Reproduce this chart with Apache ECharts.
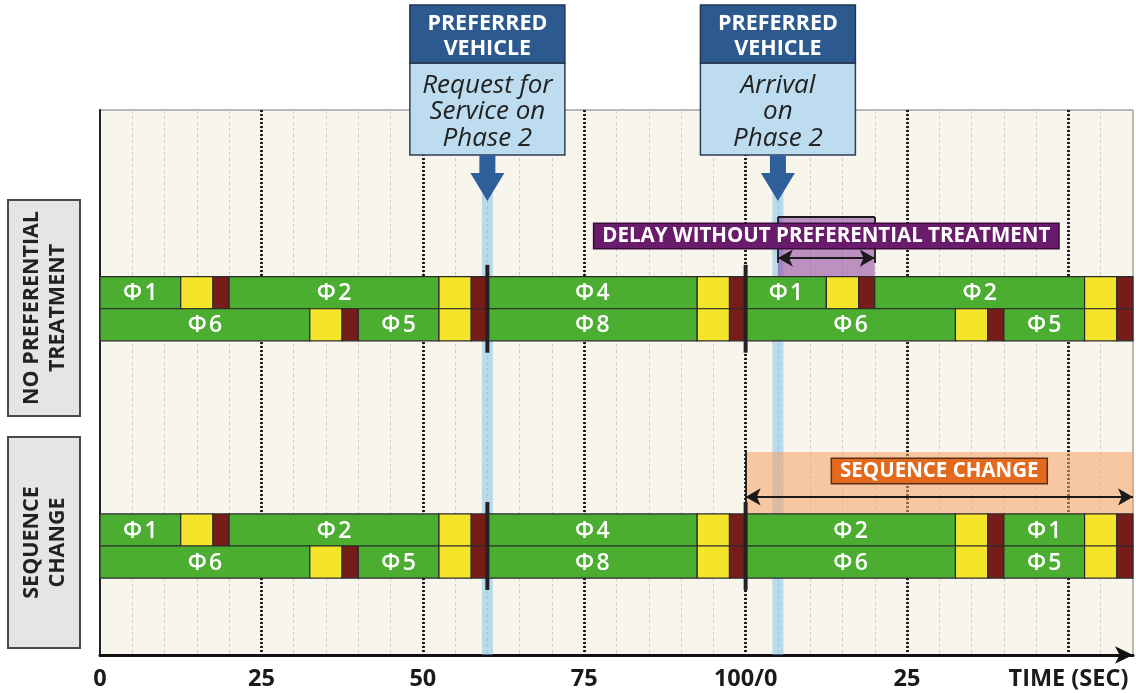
<!DOCTYPE html>
<html>
<head>
<meta charset="utf-8">
<script src="https://cdn.jsdelivr.net/npm/echarts@6.0.0/dist/echarts.min.js"></script>
<style>
html,body{margin:0;padding:0;background:#ffffff;}
#c{width:1136px;height:693px;}
</style>
</head>
<body>
<div id="c"></div>
<script>
// ---------------- DATA ----------------
const xTickValues = [0, 25, 50, 75, 100, 125, 150];
const xTickLabels = ['0', '25', '50', '75', '100/0', '25', 'TIME (SEC)'];
const groupNames = ['NO PREFERENTIAL\nTREATMENT', 'SEQUENCE\nCHANGE'];

// [start s, end s, state (G/Y/R), phase label]
const noPrefRing1 = [
  [0, 12.5, 'G', 'Φ1'], [12.5, 17.5, 'Y'], [17.5, 20, 'R'],
  [20, 52.5, 'G', 'Φ2'], [52.5, 57.5, 'Y'], [57.5, 60, 'R'],
  [60, 92.5, 'G', 'Φ4'], [92.5, 97.5, 'Y'], [97.5, 100, 'R'],
  [100, 112.5, 'G', 'Φ1'], [112.5, 117.5, 'Y'], [117.5, 120, 'R'],
  [120, 152.5, 'G', 'Φ2'], [152.5, 157.5, 'Y'], [157.5, 160, 'R']
];
const noPrefRing2 = [
  [0, 32.5, 'G', 'Φ6'], [32.5, 37.5, 'Y'], [37.5, 40, 'R'],
  [40, 52.5, 'G', 'Φ5'], [52.5, 57.5, 'Y'], [57.5, 60, 'R'],
  [60, 92.5, 'G', 'Φ8'], [92.5, 97.5, 'Y'], [97.5, 100, 'R'],
  [100, 132.5, 'G', 'Φ6'], [132.5, 137.5, 'Y'], [137.5, 140, 'R'],
  [140, 152.5, 'G', 'Φ5'], [152.5, 157.5, 'Y'], [157.5, 160, 'R']
];
const seqRing1 = [
  [0, 12.5, 'G', 'Φ1'], [12.5, 17.5, 'Y'], [17.5, 20, 'R'],
  [20, 52.5, 'G', 'Φ2'], [52.5, 57.5, 'Y'], [57.5, 60, 'R'],
  [60, 92.5, 'G', 'Φ4'], [92.5, 97.5, 'Y'], [97.5, 100, 'R'],
  [100, 132.5, 'G', 'Φ2'], [132.5, 137.5, 'Y'], [137.5, 140, 'R'],
  [140, 152.5, 'G', 'Φ1'], [152.5, 157.5, 'Y'], [157.5, 160, 'R']
];
const seqRing2 = [
  [0, 32.5, 'G', 'Φ6'], [32.5, 37.5, 'Y'], [37.5, 40, 'R'],
  [40, 52.5, 'G', 'Φ5'], [52.5, 57.5, 'Y'], [57.5, 60, 'R'],
  [60, 92.5, 'G', 'Φ8'], [92.5, 97.5, 'Y'], [97.5, 100, 'R'],
  [100, 132.5, 'G', 'Φ6'], [132.5, 137.5, 'Y'], [137.5, 140, 'R'],
  [140, 152.5, 'G', 'Φ5'], [152.5, 157.5, 'Y'], [157.5, 160, 'R']
];
const cycleBoundaries = [60, 100];
const requestTime = 60;
const arrivalTime = 105;
const delayRange = [105, 120];
const sequenceChangeRange = [100, 160];
const calloutTitles = ['PREFERRED\nVEHICLE', 'PREFERRED\nVEHICLE'];
const calloutTexts = ['Request for\nService on\nPhase 2', 'Arrival\non\nPhase 2'];
const calloutTimes = [requestTime, arrivalTime];
const delayLabel = 'DELAY WITHOUT PREFERENTIAL TREATMENT';
const sequenceLabel = 'SEQUENCE CHANGE';

// ---------------- LAYOUT / STYLE ----------------
const Y_MAX = 17;
const GROUP_CENTERS = [[5.7, 6.7], [13.1, 14.1]];
const STATE_COLORS = { G: '#4cae30', Y: '#f4e52b', R: '#761d1a' };
const BAND_W = 0.85;
const DELAY_TOP = 3.34, DELAY_ARROW = 4.62, DELAY_TICK_BOTTOM = 4.77, DELAY_LABEL_Y = 3.93;
const SEQ_TOP = 10.67, SEQ_ARROW = 12.07, SEQ_TICK_BOTTOM = 12.26, SEQ_LABEL_Y = 11.26;
const BARRIER_EXT = 0.37;
const FONT = '"Open Sans", "Liberation Sans", sans-serif';

const groups = [
  { rings: [noPrefRing1, noPrefRing2], centers: GROUP_CENTERS[0] },
  { rings: [seqRing1, seqRing2], centers: GROUP_CENTERS[1] }
];
const segs = [];
groups.forEach(g => g.rings.forEach((ring, ri) => ring.forEach(s => {
  segs.push({ start: s[0], end: s[1], state: s[2], label: s[3] || '', yc: g.centers[ri] });
})));
const segData = segs.map(s => [s.start, s.end, s.yc]);
const barrierData = [];
groups.forEach(g => cycleBoundaries.forEach(t => {
  barrierData.push([t, g.centers[0] - 0.5 - BARRIER_EXT, g.centers[1] + 0.5 + BARRIER_EXT]);
}));

function renderSeg(params, api) {
  const s = segs[params.dataIndex];
  const p0 = api.coord([api.value(0), api.value(2) - 0.5]);
  const p1 = api.coord([api.value(1), api.value(2) + 0.5]);
  const children = [{
    type: 'rect',
    shape: { x: p0[0], y: p0[1], width: p1[0] - p0[0], height: p1[1] - p0[1] },
    style: { fill: STATE_COLORS[s.state], stroke: '#2a2a2a', lineWidth: 1.2 }
  }];
  if (s.label) {
    children.push({
      type: 'text',
      style: {
        text: s.label.charAt(0) + '\u200A' + s.label.slice(1),
        x: (p0[0] + p1[0]) / 2, y: (p0[1] + p1[1]) / 2 + 1,
        align: 'center', verticalAlign: 'middle', fill: '#ffffff',
        font: '600 23px ' + FONT
      }
    });
  }
  return { type: 'group', children };
}

function renderBarrier(params, api) {
  const a = api.coord([api.value(0), api.value(1)]);
  const b = api.coord([api.value(0), api.value(2)]);
  return {
    type: 'line',
    shape: { x1: a[0], y1: a[1], x2: b[0], y2: b[1] },
    style: { stroke: '#222222', lineWidth: 4 }
  };
}

const chart = echarts.init(document.getElementById('c'), null, { renderer: 'canvas' });

const option = {
  animation: false,
  backgroundColor: '#ffffff',
  grid: {
    left: 100, right: 2, top: 110, bottom: 38,
    show: true, backgroundColor: '#f8f6ec', borderColor: '#777777', borderWidth: 1
  },
  xAxis: [
    {
      type: 'value', min: 0, max: 160, interval: 5, position: 'top',
      axisLine: { show: false }, axisTick: { show: false }, axisLabel: { show: false },
      splitLine: { show: true, showMinLine: false, showMaxLine: false,
        lineStyle: { color: '#cdccc2', type: [3, 3], width: 1 } }
    },
    {
      type: 'value', min: 0, max: 160, interval: 25, position: 'bottom',
      axisLine: { show: true, onZero: false, symbol: ['none', 'arrow'], symbolSize: [13, 18],
        lineStyle: { color: '#111111', width: 3 } },
      axisTick: { show: false },
      axisLabel: {
        margin: 12, color: '#1a1a1a', fontWeight: 'bold', fontSize: 23.5, fontFamily: FONT,
        formatter: v => { const i = xTickValues.indexOf(v); return i >= 0 ? xTickLabels[i] : ''; }
      },
      splitLine: { show: true, showMinLine: false, showMaxLine: false,
        lineStyle: { color: '#151515', type: [2, 2], width: 2.8 } }
    }
  ],
  yAxis: {
    type: 'value', min: 0, max: Y_MAX, inverse: true,
    axisLine: { show: true, onZero: false, lineStyle: { color: '#222222', width: 2 } },
    axisTick: { show: false }, axisLabel: { show: false }, splitLine: { show: false }
  },
  series: [
    {
      type: 'line', xAxisIndex: 1, data: [], z: 1, silent: true,
      markArea: {
        silent: true, itemStyle: { color: 'rgba(120,190,232,0.5)' },
        data: calloutTimes.map(t => [{ xAxis: t - BAND_W }, { xAxis: t + BAND_W }])
      }
    },
    {
      type: 'line', xAxisIndex: 1, data: [], z: 2, silent: true,
      markArea: {
        silent: true,
        data: [
          [{ xAxis: delayRange[0], yAxis: DELAY_TOP, itemStyle: { color: 'rgba(140,60,160,0.55)' } },
           { xAxis: delayRange[1], yAxis: GROUP_CENTERS[0][0] - 0.5 }],
          [{ xAxis: sequenceChangeRange[0], yAxis: SEQ_TOP, itemStyle: { color: 'rgba(246,160,100,0.55)' } },
           { xAxis: sequenceChangeRange[1], yAxis: GROUP_CENTERS[1][0] - 0.5 }]
        ]
      }
    },
    {
      type: 'custom', xAxisIndex: 1, z: 3, data: segData, renderItem: renderSeg, silent: true
    },
    {
      type: 'custom', xAxisIndex: 1, z: 4, data: barrierData, renderItem: renderBarrier, silent: true
    },
    {
      type: 'line', xAxisIndex: 1, data: [], z: 5, silent: true,
      markLine: {
        silent: true, symbol: ['none', 'none'], label: { show: false },
        lineStyle: { color: '#1a1a1a', width: 1.8, type: 'solid' },
        data: [
          [{ coord: [delayRange[0], DELAY_ARROW], symbol: 'arrow', symbolSize: [13, 15] },
           { coord: [delayRange[1], DELAY_ARROW], symbol: 'arrow', symbolSize: [13, 15] }],
          [{ coord: [delayRange[0], DELAY_TOP] }, { coord: [delayRange[0], DELAY_TICK_BOTTOM] }],
          [{ coord: [delayRange[1], DELAY_TOP] }, { coord: [delayRange[1], DELAY_TICK_BOTTOM] }],
          [{ coord: [delayRange[0], DELAY_TOP] }, { coord: [delayRange[1], DELAY_TOP] }],
          [{ coord: [sequenceChangeRange[0], SEQ_ARROW], symbol: 'arrow', symbolSize: [13, 15] },
           { coord: [sequenceChangeRange[1], SEQ_ARROW], symbol: 'arrow', symbolSize: [13, 15] }],
          [{ coord: [sequenceChangeRange[0], SEQ_TOP] }, { coord: [sequenceChangeRange[0], SEQ_TICK_BOTTOM] }]
        ]
      }
    }
  ]
};
chart.setOption(option);

// ---------------- Annotations (positioned from the axes) ----------------
function px(x, y) { return chart.convertToPixel({ xAxisIndex: 1, yAxisIndex: 0 }, [x, y]); }
const graphics = [];

// side group labels
const sideBoxes = [[200, 416], [437, 648]];
sideBoxes.forEach((b, i) => {
  graphics.push({
    type: 'rect', shape: { x: 8, y: b[0], width: 72, height: b[1] - b[0] },
    style: { fill: '#e5e5e5', stroke: '#4a4a4a', lineWidth: 2 }, z: 10
  });
  graphics.push({
    type: 'text', x: 45, y: (b[0] + b[1]) / 2, rotation: Math.PI / 2, z: 11,
    style: { text: groupNames[i], align: 'center', verticalAlign: 'middle',
      font: 'bold 21.5px ' + FONT, fill: '#222222', lineHeight: 26 }
  });
});

// callouts
calloutTimes.forEach((t, i) => {
  const cx = px(t, 0)[0];
  const w = 155, top = 5, titleH = 58, h = 150;
  graphics.push({
    type: 'rect', shape: { x: cx - w / 2, y: top + titleH, width: w, height: h - titleH },
    style: { fill: '#bddcef', stroke: '#2c3e55', lineWidth: 1.5 }, z: 20
  });
  graphics.push({
    type: 'rect', shape: { x: cx - w / 2, y: top, width: w, height: titleH },
    style: { fill: '#2c5a8e', stroke: '#23364f', lineWidth: 1.5 }, z: 21
  });
  graphics.push({
    type: 'text', x: cx, y: top + titleH / 2 + 2, z: 22,
    style: { text: calloutTitles[i], align: 'center', verticalAlign: 'middle',
      font: 'bold 21.5px ' + FONT, fill: '#ffffff', lineHeight: 25 }
  });
  graphics.push({
    type: 'text', x: cx, y: top + titleH + (h - titleH) / 2 + 3, z: 22,
    style: { text: calloutTexts[i], align: 'center', verticalAlign: 'middle',
      font: 'italic 26px ' + FONT, fill: '#222222', lineHeight: 26.5 }
  });
  const yb = top + h;
  graphics.push({
    type: 'polygon', z: 22,
    shape: { points: [
      [cx - 8, yb], [cx + 8, yb], [cx + 8, yb + 18], [cx + 17, yb + 18],
      [cx, yb + 46], [cx - 17, yb + 18], [cx - 8, yb + 18]
    ] },
    style: { fill: '#2e5f9a' }
  });
});

// range labels
const dl = px((delayRange[0] + delayRange[1]) / 2, DELAY_LABEL_Y);
graphics.push({
  type: 'text', x: dl[0], y: dl[1], z: 25,
  style: { text: delayLabel, align: 'center', verticalAlign: 'middle',
    font: 'bold 20.5px ' + FONT, fill: '#ffffff',
    backgroundColor: '#6a1c6c', borderColor: '#3a0c3b', borderWidth: 1.5, padding: [2, 8, 1, 8] }
});
const sl = px((sequenceChangeRange[0] + sequenceChangeRange[1]) / 2, SEQ_LABEL_Y);
graphics.push({
  type: 'text', x: sl[0], y: sl[1], z: 25,
  style: { text: sequenceLabel, align: 'center', verticalAlign: 'middle',
    font: 'bold 20.5px ' + FONT, fill: '#ffffff',
    backgroundColor: '#e2691e', borderColor: '#5a3018', borderWidth: 1.5, padding: [2, 8, 1, 8] }
});

chart.setOption({ graphic: graphics });
</script>
</body>
</html>
